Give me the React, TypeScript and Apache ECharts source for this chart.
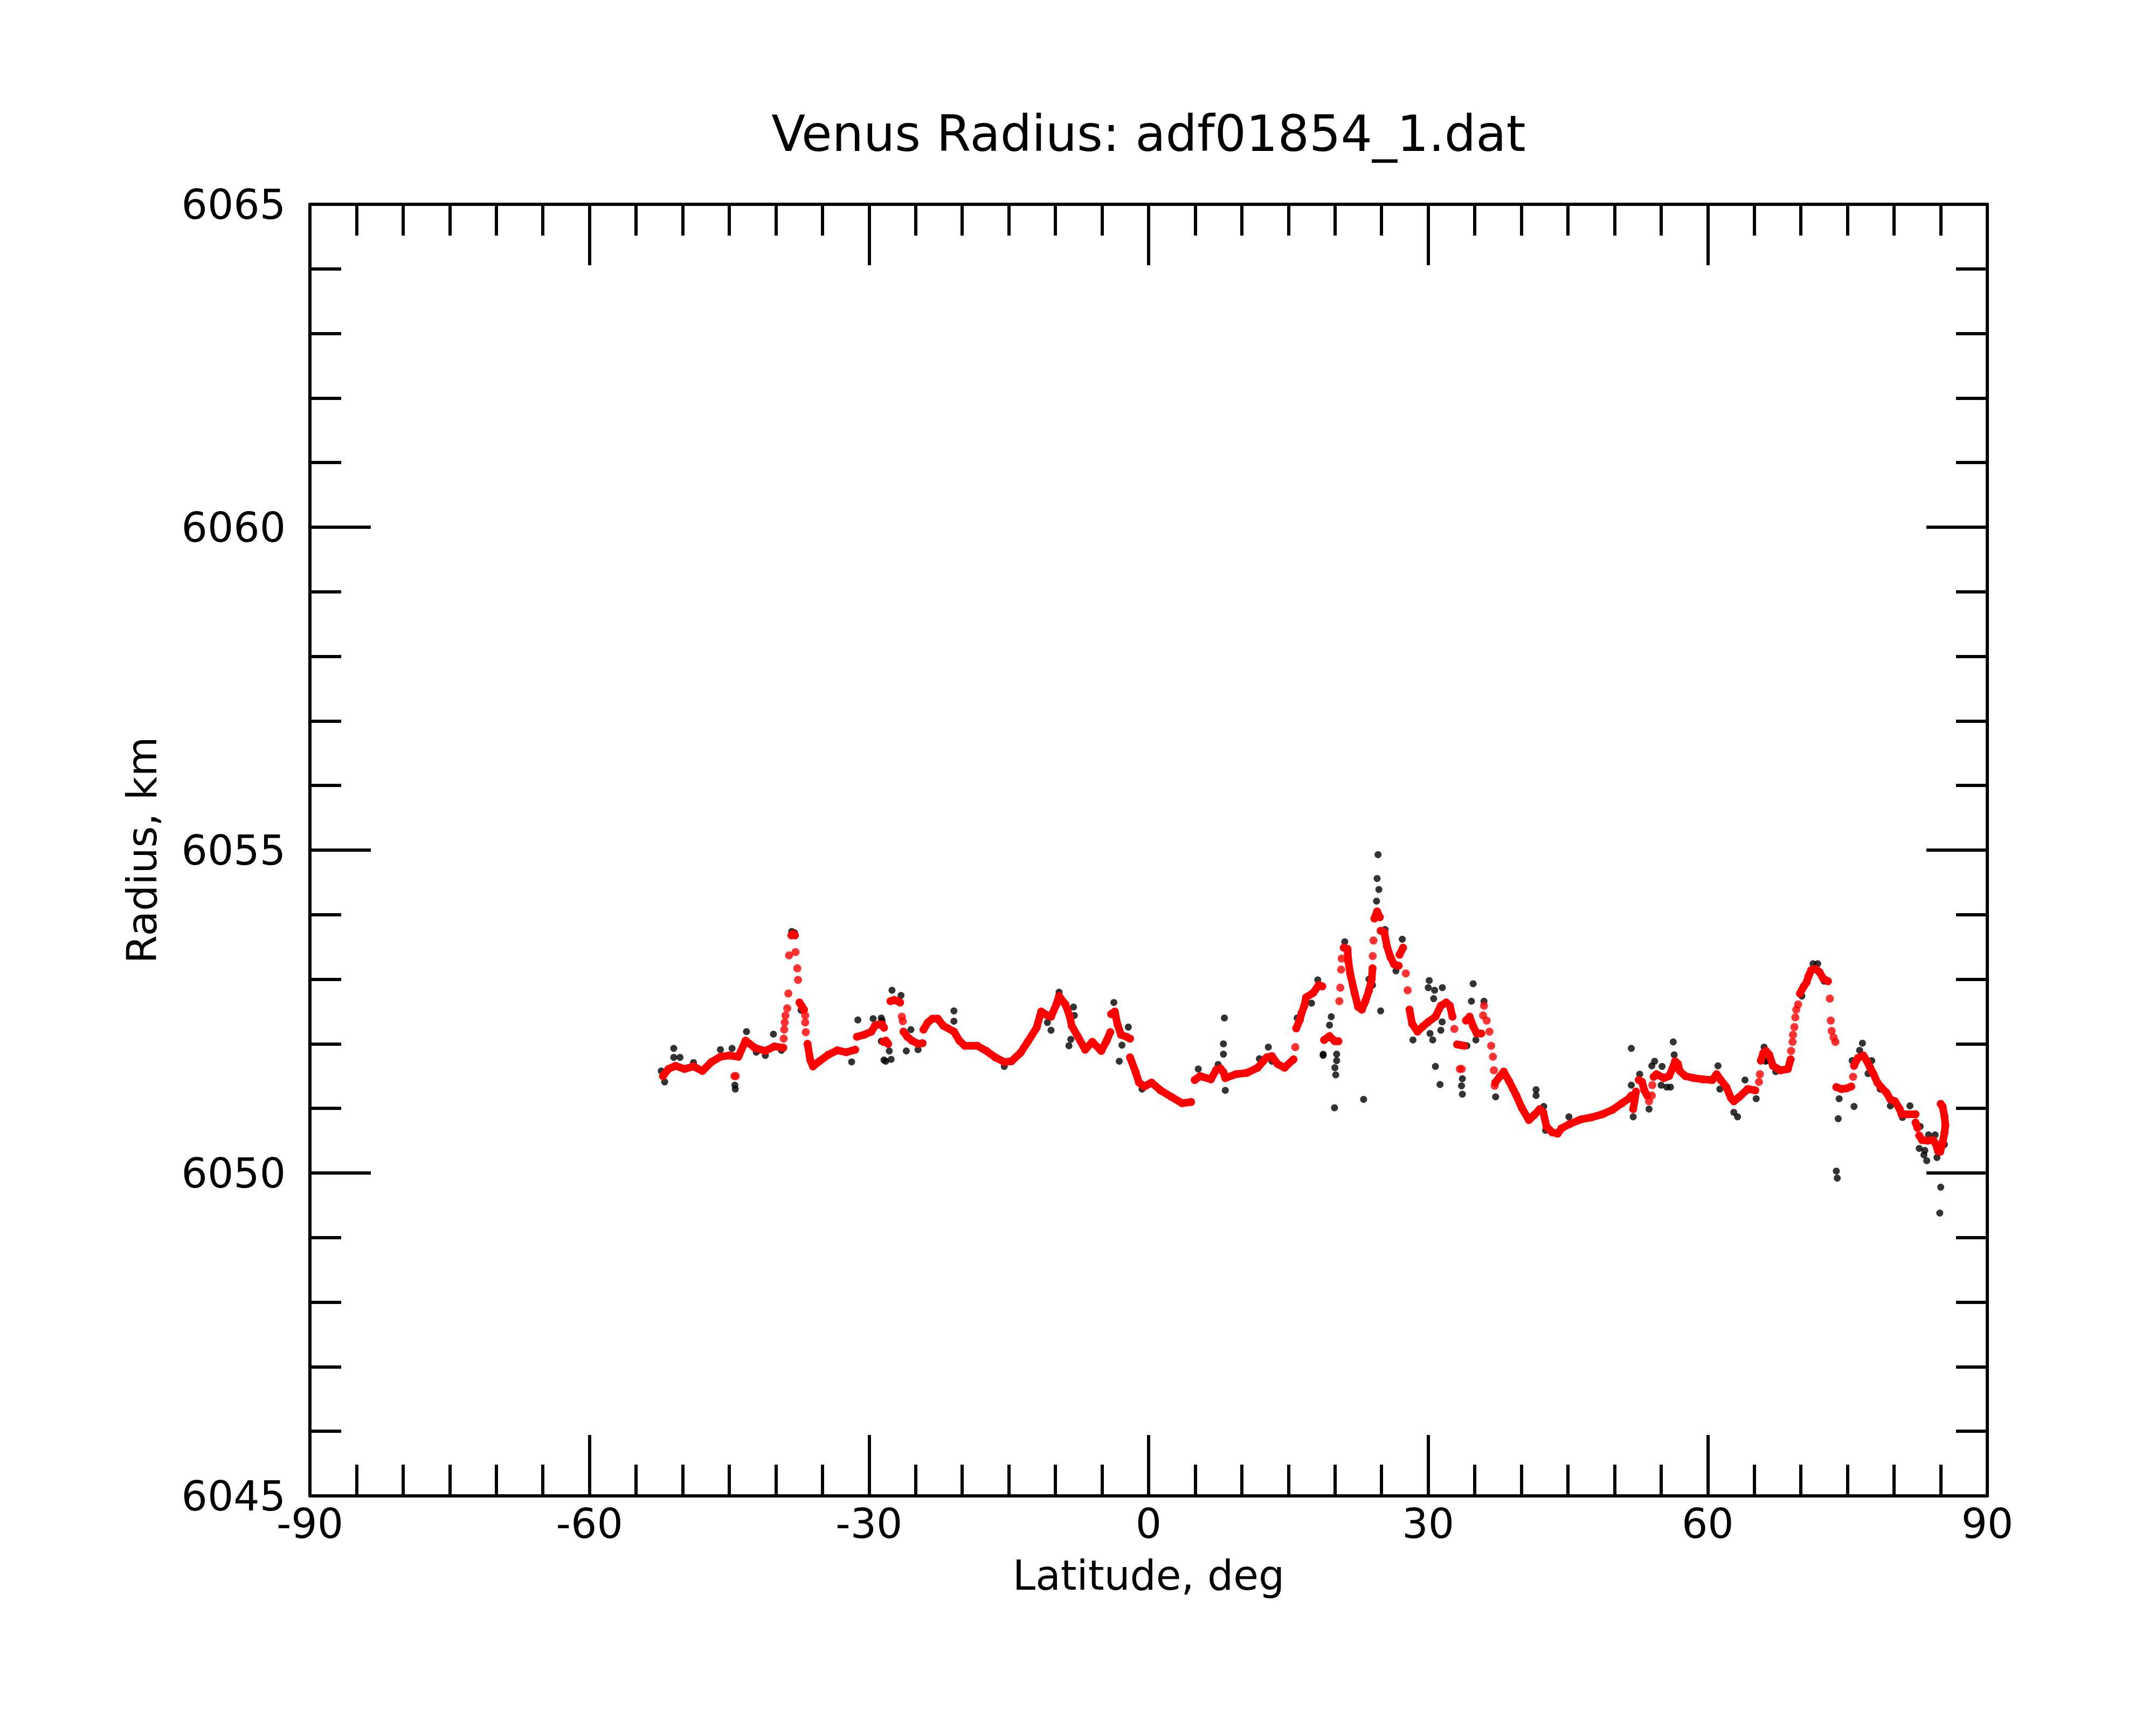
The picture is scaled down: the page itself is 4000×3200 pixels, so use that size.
import React, { useEffect, useRef } from "react";
import * as echarts from "echarts";

// ---- Data (latitude in deg, radius in km) ----
const xTicks = [-90, -60, -30, 0, 30, 60, 90];
const yTicks = [6045, 6050, 6055, 6060, 6065];

const redSeg01 = [[-52.12,6051.50],[-51.54,6051.61],[-50.77,6051.66],[-49.8,6051.61],[-48.84,6051.65],[-47.88,6051.58],[-46.91,6051.72],[-45.95,6051.80],[-44.98,6051.82],[-44.02,6051.80],[-43.25,6052.05],[-42.28,6051.94],[-41.13,6051.89],[-40.16,6051.96],[-39.2,6051.94]];
const redSeg02 = [[-38.33,6053.68],[-38.15,6053.70],[-37.95,6053.68]];
const redSeg03 = [[-37.46,6052.64],[-37.2,6052.58],[-36.98,6052.53]];
const redSeg04 = [[-36.6,6052.00],[-36.31,6051.75],[-36.02,6051.65],[-35.34,6051.73],[-34.38,6051.83],[-33.42,6051.90],[-32.45,6051.87],[-31.49,6051.91]];
const redSeg05 = [[-31.3,6052.11],[-30.53,6052.14],[-29.75,6052.19],[-29.37,6052.28],[-28.98,6052.30],[-28.6,6052.30],[-28.4,6052.25]];
const redSeg06 = [[-28.45,6052.03],[-28.2,6052.05],[-27.95,6052.00]];
const redSeg07 = [[-27.7,6052.66],[-27.3,6052.68],[-26.9,6052.66],[-26.67,6052.64]];
const redSeg08 = [[-26.3,6052.19],[-25.9,6052.11],[-25.4,6052.05],[-24.74,6052.00],[-24.26,6052.01]];
const redSeg09 = [[-24.16,6052.22],[-23.7,6052.33],[-23.2,6052.39],[-22.62,6052.39],[-22.04,6052.28],[-20.89,6052.19],[-20.31,6052.05],[-19.73,6051.97],[-18.38,6051.97],[-17.41,6051.89],[-16.45,6051.79],[-15.49,6051.72],[-14.72,6051.73],[-13.75,6051.86],[-12.98,6052.03],[-12.02,6052.25],[-11.53,6052.50],[-10.86,6052.44],[-10.47,6052.42],[-9.9,6052.61],[-9.61,6052.74],[-8.93,6052.61],[-8.45,6052.42],[-8.26,6052.28],[-7.58,6052.11],[-6.81,6051.91],[-6.04,6052.03],[-5.08,6051.89],[-4.5,6052.05],[-4.11,6052.18]];
const redSeg10 = [[-4.02,6052.46],[-3.63,6052.50],[-3.34,6052.30],[-2.96,6052.14],[-2.38,6052.11],[-1.99,6052.08]];
const redSeg11 = [[-1.99,6051.79],[-1.41,6051.57],[-1.03,6051.40],[-0.45,6051.34],[0.32,6051.40],[1.28,6051.28],[2.44,6051.18],[3.6,6051.08],[4.56,6051.10]];
const redSeg12 = [[4.95,6051.44],[5.53,6051.50],[6.68,6051.45],[7.26,6051.60],[7.7,6051.62],[8.03,6051.56],[8.23,6051.47],[9.38,6051.53],[10.54,6051.55],[11.7,6051.63],[12.66,6051.79],[13.24,6051.81],[13.82,6051.69],[14.59,6051.63],[15.55,6051.76]];
const redSeg13 = [[15.84,6052.24],[16.23,6052.37],[16.42,6052.48],[16.71,6052.59],[16.9,6052.72],[17.67,6052.79],[18.25,6052.91],[18.64,6052.89]];
const redSeg14 = [[18.83,6052.06],[19.41,6052.12],[19.99,6052.04],[20.37,6052.04]];
const redSeg15 = [[20.95,6053.49],[21.34,6053.47],[21.43,6053.28],[21.63,6053.09],[22.1,6052.79],[22.49,6052.57],[22.88,6052.53],[23.26,6052.66],[23.65,6052.83],[23.94,6053.00],[24.03,6053.17]];
const redSeg16 = [[24.23,6053.94],[24.52,6054.05],[24.81,6053.96]];
const redSeg17 = [[24.9,6053.75],[25.29,6053.73],[25.58,6053.51],[25.96,6053.34],[26.35,6053.23],[26.83,6053.21]];
const redSeg18 = [[26.93,6053.38],[27.31,6053.49]];
const redSeg19 = [[27.99,6052.53],[28.28,6052.31],[28.86,6052.19],[29.43,6052.27],[30.01,6052.34],[30.78,6052.42],[31.36,6052.59],[31.94,6052.64],[32.33,6052.59],[32.61,6052.42]];
const redSeg20 = [[33.1,6051.99],[33.5,6051.98],[33.87,6051.97]];
const redSeg21 = [[34.06,6052.36],[34.45,6052.42],[34.83,6052.27],[35.22,6052.16],[35.7,6052.16]];
const redSeg22 = [[37.2,6051.40],[37.72,6051.50],[38.11,6051.57],[38.69,6051.42],[39.46,6051.20],[40.04,6051.01],[40.81,6050.82],[41.39,6050.90],[41.97,6050.99],[42.35,6050.94],[42.7,6050.72],[43.3,6050.63],[43.9,6050.61],[44.3,6050.69],[45.2,6050.76],[46.4,6050.83],[47.5,6050.86],[48.7,6050.91],[49.8,6050.98],[50.8,6051.08],[51.6,6051.16],[51.8,6051.20]];
const redSeg23 = [[52.0,6050.99],[52.15,6051.12],[52.3,6051.26]];
const redSeg24 = [[52.6,6051.44],[52.95,6051.41],[53.2,6051.28],[53.5,6051.20]];
const redSeg25 = [[54.2,6051.49],[54.5,6051.53],[55.3,6051.47],[55.85,6051.50],[56.2,6051.61],[56.5,6051.73],[56.8,6051.69],[57.0,6051.58],[57.6,6051.50],[58.5,6051.47],[59.5,6051.45],[60.5,6051.44],[60.95,6051.53],[61.4,6051.44],[62.0,6051.33],[62.5,6051.16],[62.8,6051.11],[63.4,6051.18],[64.3,6051.30],[65.1,6051.28]];
const redSeg26 = [[65.7,6051.74],[65.97,6051.86],[66.25,6051.89],[66.6,6051.83],[67.0,6051.66],[67.8,6051.59],[68.6,6051.61],[68.9,6051.76]];
const redSeg27 = [[69.9,6052.78],[70.3,6052.89],[70.6,6052.95],[70.8,6053.04],[71.1,6053.14],[71.6,6053.16],[72.0,6053.11],[72.4,6053.01],[72.9,6052.97]];
const redSeg28 = [[73.8,6051.33],[74.35,6051.30],[74.9,6051.31],[75.4,6051.34]];
const redSeg29 = [[75.7,6051.66],[76.1,6051.78],[76.7,6051.82],[77.05,6051.74],[77.4,6051.64],[77.8,6051.53],[78.2,6051.40],[78.6,6051.33],[79.2,6051.24],[79.6,6051.14],[80.1,6051.11],[80.6,6050.99],[80.8,6050.91],[81.5,6050.91],[82.3,6050.91]];
const redSeg30 = [[82.3,6050.78],[82.5,6050.70]];
const redSeg31 = [[82.7,6050.58],[83.0,6050.51],[83.6,6050.50],[84.2,6050.51],[84.5,6050.44],[84.7,6050.34],[84.95,6050.33],[85.2,6050.47],[85.4,6050.62],[85.5,6050.74],[85.4,6050.88],[85.2,6051.03],[85.0,6051.07]];

const redIsolated = [[-44.45,6051.50],[-44.3,6051.50],[-39.16,6052.08],[-39.1,6052.22],[-39.05,6052.33],[-38.97,6052.44],[-38.78,6052.55],[-38.66,6052.78],[-38.58,6053.37],[-37.89,6053.42],[-37.7,6053.17],[-37.62,6052.99],[-36.85,6052.44],[-36.85,6052.33],[-36.79,6052.18],[-26.48,6052.42],[-26.38,6052.35],[15.74,6051.95],[20.47,6052.66],[20.57,6052.87],[20.66,6053.15],[20.72,6053.32],[24.05,6053.36],[24.13,6053.60],[27.6,6053.09],[27.8,6052.83],[32.81,6052.23],[33.4,6051.61],[33.6,6051.61],[35.89,6052.44],[35.99,6052.59],[36.28,6052.36],[36.57,6052.19],[36.76,6051.97],[36.95,6051.80],[37.05,6051.59],[37.14,6051.35],[53.7,6051.11],[54.0,6051.20],[54.05,6051.36],[65.5,6051.41],[65.6,6051.53],[68.95,6051.89],[69.1,6052.03],[69.15,6052.14],[69.3,6052.26],[69.4,6052.41],[69.5,6052.53],[69.7,6052.61],[73.1,6052.70],[73.2,6052.36],[73.3,6052.20],[73.5,6052.10],[73.7,6052.03],[75.6,6051.49]];

const blackRaw = [[-52.3,6051.58],[-51.93,6051.41],[-50.96,6051.93],[-50.96,6051.79],[-50.29,6051.79],[-48.84,6051.71],[-45.95,6051.91],[-44.7,6051.93],[-44.4,6051.36],[-44.35,6051.30],[-43.15,6052.19],[-42.1,6051.87],[-41.13,6051.82],[-40.26,6052.15],[-39.4,6051.90],[-38.3,6053.74],[-38.0,6053.72],[-37.3,6052.52],[-31.87,6051.72],[-31.2,6052.37],[-29.56,6052.39],[-28.69,6052.40],[-28.69,6052.04],[-28.4,6051.75],
[-28.6,6052.36],[-28.21,6051.73],[-27.63,6051.76],[-27.83,6051.89],[-27.54,6052.83],[-26.57,6052.75],[-26.0,6051.89],[-25.51,6052.22],[-24.74,6051.91],[-20.89,6052.51],[-20.89,6052.35],[-15.49,6051.65],[-10.86,6052.33],[-10.47,6052.21],[-9.61,6052.80],[-8.06,6052.57],[-7.97,6052.44],[-8.55,6051.97],[-8.35,6052.07],
[-3.73,6052.64],[-2.18,6052.26],[-3.15,6051.73],[-2.86,6051.98],[-0.7,6051.30],[5.33,6051.61],[8.13,6052.40],[8.03,6052.00],[8.03,6051.84],[8.23,6051.28],[7.46,6051.68],[11.89,6051.77],[12.85,6051.95],[13.24,6051.73],[15.94,6052.40],[17.48,6052.63],[18.15,6052.99],[18.73,6051.82],
[24.62,6054.93],[24.52,6054.56],[24.71,6054.39],[24.46,6054.21],[24.03,6052.91],[23.65,6053.00],[24.9,6052.51],[23.07,6051.14],[19.95,6051.01],[20.08,6051.52],[19.99,6051.63],[20.18,6051.74],[20.18,6051.84],[19.6,6052.42],[19.41,6052.29],[18.73,6051.84],[21.05,6053.58],[25.38,6053.77],[27.22,6053.62],[26.54,6053.13],[28.37,6052.06],[30.11,6052.98],[30.01,6052.87],[30.69,6052.83],[31.52,6052.87],[30.59,6052.70],[31.5,6052.34],[31.36,6052.21],[30.2,6052.16],[30.49,6052.06],[30.78,6051.65],[31.27,6051.37],[34.83,6052.93],[34.64,6052.66],[33.67,6051.46],[33.58,6051.35],[33.67,6051.22],[34.16,6051.97],[35.12,6052.06],[35.99,6052.66],[37.24,6051.18],[41.58,6051.29],[41.58,6051.20],
[42.4,6051.03],[42.6,6050.66],[45.1,6050.87],[51.8,6051.93],[51.8,6051.36],[52.0,6050.87],[53.7,6050.99],[52.7,6051.53],[54.3,6051.73],[54.0,6051.66],[55.1,6051.65],[56.3,6052.03],[56.4,6051.83],[55.6,6051.33],[56.0,6051.33],[55.0,6051.36],[61.1,6051.66],[61.3,6051.30],[62.8,6050.94],[63.2,6050.87],[64.0,6051.44],[65.2,6051.15],[66.05,6051.95],[66.2,6051.73],
[71.3,6053.24],[71.8,6053.24],[70.1,6052.74],[66.4,6051.74],[67.3,6051.57],[72.5,6052.97],[74.1,6051.15],[75.7,6051.03],[74.0,6050.84],[73.8,6050.03],[73.9,6049.92],[76.6,6052.01],[76.3,6051.90],[75.5,6051.74],[77.6,6051.74],[77.2,6051.54],[78.5,6051.30],[79.6,6051.04],[81.7,6051.04],[80.9,6050.86],[82.8,6050.72],[83.7,6050.59],[84.4,6050.59],[82.7,6050.38],[83.3,6050.35],[83.2,6050.28],[83.5,6050.19],[84.6,6050.24],[85.4,6050.44],[85.0,6049.78],[84.9,6049.38]];

const redSegments = [redSeg01,redSeg02,redSeg03,redSeg04,redSeg05,redSeg06,redSeg07,redSeg08,redSeg09,redSeg10,redSeg11,redSeg12,redSeg13,redSeg14,redSeg15,redSeg16,redSeg17,redSeg18,redSeg19,redSeg20,redSeg21,redSeg22,redSeg23,redSeg24,redSeg25,redSeg26,redSeg27,redSeg28,redSeg29,redSeg30,redSeg31];

const FONT = "DejaVu Sans";

function makeXAxis(position: "bottom" | "top") {
  return {
    type: "value",
    position,
    min: xTicks[0],
    max: xTicks[xTicks.length - 1],
    interval: 30,
    axisLine: { show: true, onZero: false, lineStyle: { color: "#000", width: 6 } },
    axisTick: { show: true, inside: true, length: 113, lineStyle: { color: "#000", width: 6 } },
    minorTick: { show: true, splitNumber: 6, length: 58, lineStyle: { color: "#000", width: 6 } },
    splitLine: { show: false },
    minorSplitLine: { show: false },
    axisLabel: {
      show: position === "bottom",
      color: "#000",
      fontSize: 76,
      lineHeight: 62,
      fontFamily: FONT,
      margin: 20,
      formatter: (v: number) => String(v),
    },
  };
}

function makeYAxis(position: "left" | "right") {
  return {
    type: "value",
    position,
    min: yTicks[0],
    max: yTicks[yTicks.length - 1],
    interval: 5,
    axisLine: { show: true, onZero: false, lineStyle: { color: "#000", width: 6 } },
    axisTick: { show: true, inside: true, length: 113, lineStyle: { color: "#000", width: 6 } },
    minorTick: { show: true, splitNumber: 5, length: 58, lineStyle: { color: "#000", width: 6 } },
    splitLine: { show: false },
    minorSplitLine: { show: false },
    axisLabel: {
      show: position === "left",
      color: "#000",
      fontSize: 76,
      lineHeight: 62,
      fontFamily: FONT,
      margin: 45,
      formatter: (v: number) => String(v),
    },
  };
}

export default function App() {
  const ref = useRef<HTMLDivElement>(null);

  useEffect(() => {
    if (!ref.current) return;
    const chart = echarts.init(ref.current, undefined, { renderer: "svg" });

    const lineSeries = redSegments.map((seg) => ({
      type: "line",
      data: seg,
      xAxisIndex: 0,
      yAxisIndex: 0,
      showSymbol: false,
      symbol: "none",
      silent: true,
      lineStyle: { color: "#ff0000", width: 14, cap: "round", join: "round" },
      z: 3,
    }));

    const redAll = ([] as number[][]).concat(...redSegments, redIsolated);

    chart.setOption({
      animation: false,
      backgroundColor: "#ffffff",
      grid: { left: 575, right: 313, top: 379, bottom: 425, containLabel: false },
      xAxis: [makeXAxis("bottom"), makeXAxis("top")],
      yAxis: [makeYAxis("left"), makeYAxis("right")],
      series: [
        {
          type: "scatter",
          data: blackRaw,
          xAxisIndex: 0,
          yAxisIndex: 0,
          symbolSize: 13,
          itemStyle: { color: "#000000" },
          silent: true,
          z: 2,
        },
        ...lineSeries,
        {
          type: "scatter",
          data: redAll,
          xAxisIndex: 0,
          yAxisIndex: 0,
          symbolSize: 15,
          itemStyle: { color: "#ff0000" },
          silent: true,
          z: 4,
        },
      ],
      graphic: [
        {
          type: "text",
          x: 2131,
          y: 248,
          style: {
            text: "Venus Radius: adf01854_1.dat",
            fontSize: 92,
            fontFamily: FONT,
            fill: "#000",
            align: "center",
            verticalAlign: "middle",
            textAlign: "center",
            textVerticalAlign: "middle",
          },
        },
        {
          type: "text",
          x: 2131,
          y: 2922,
          style: {
            text: "Latitude, deg",
            fontSize: 76,
            lineHeight: 62,
            fontFamily: FONT,
            fill: "#000",
            align: "center",
            verticalAlign: "middle",
            textAlign: "center",
            textVerticalAlign: "middle",
          },
        },
        {
          type: "text",
          x: 263,
          y: 1577,
          rotation: Math.PI / 2,
          style: {
            text: "Radius, km",
            fontSize: 76,
            fontFamily: FONT,
            fill: "#000",
            align: "center",
            verticalAlign: "middle",
            textAlign: "center",
            textVerticalAlign: "middle",
          },
        },
      ],
    });

    return () => chart.dispose();
  }, []);

  return (
    <div
      ref={ref}
      style={{ position: "absolute", left: 0, top: 0, width: 4000, height: 3200, background: "#fff" }}
    />
  );
}
